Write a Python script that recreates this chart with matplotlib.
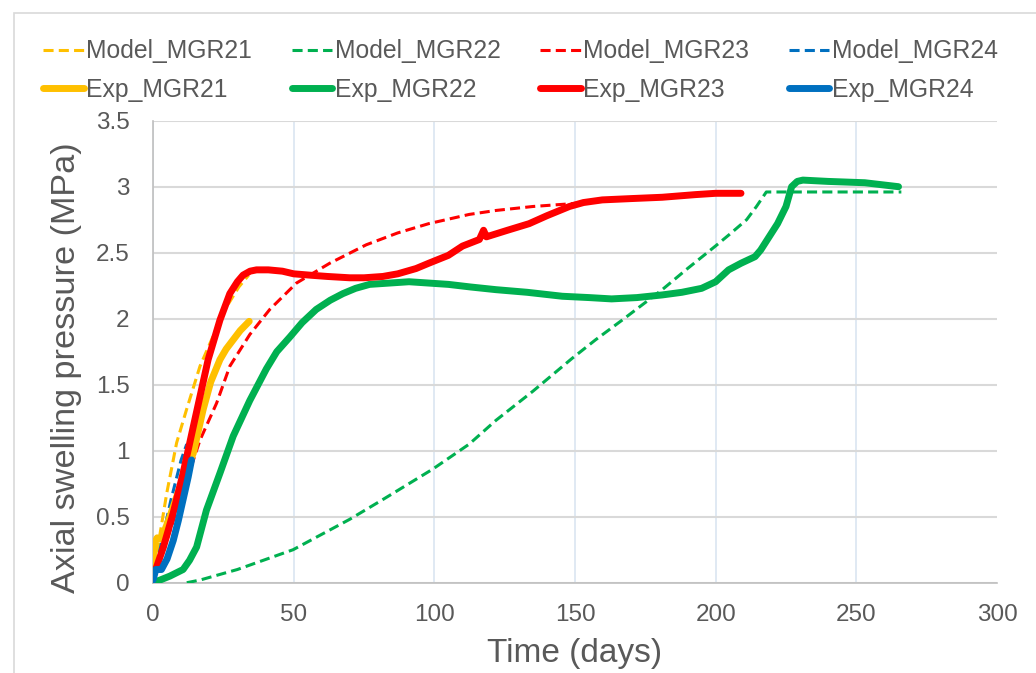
import matplotlib
matplotlib.use("Agg")
import matplotlib.pyplot as plt
from matplotlib.patches import Rectangle

plt.rcParams['font.family'] = ['Liberation Sans', 'DejaVu Sans']

# ---------------- data ----------------
exp21_t = [0, 0.5, 1.5, 3, 6, 10, 14.3, 17.8, 20.5, 23.8, 26, 28.5, 31, 34.2]
exp21_p = [0.1, 0.3, 0.34, 0.33, 0.5, 0.75, 0.98, 1.31, 1.52, 1.69, 1.77, 1.84, 1.91, 1.98]

mod21_t = [0, 2.5, 4.9, 8.4, 11.9, 16.7, 20.2, 25, 30.5, 34]
mod21_p = [0, 0.37, 0.68, 1.06, 1.31, 1.64, 1.81, 2.05, 2.24, 2.33]

exp22_t = [0, 2.5, 6, 10.7, 13, 15.5, 19, 23.8, 28.5, 34.4, 40.3, 44, 48.6, 53, 58, 63, 67.5, 72, 77, 84,
           91, 98, 105, 113, 121.9, 133, 145.5, 155, 163, 172, 181, 188, 195, 200, 204.6, 209, 214,
           216, 219, 222, 225, 227, 229, 231, 240, 253, 265]
exp22_p = [0, 0.02, 0.05, 0.1, 0.17, 0.27, 0.55, 0.83, 1.11, 1.38, 1.62, 1.75, 1.86, 1.97, 2.07, 2.14, 2.19,
           2.23, 2.26, 2.27, 2.28, 2.27, 2.26, 2.24, 2.22, 2.2, 2.17, 2.16, 2.15, 2.16, 2.18, 2.2, 2.23,
           2.28, 2.37, 2.42, 2.47, 2.52, 2.62, 2.72, 2.85, 3.0, 3.04, 3.05, 3.04, 3.03, 3.0]

mod22_t = [12, 16.7, 30, 49.8, 69.9, 81.7, 99.4, 112.4, 121.9, 135, 149, 157.3, 166.8, 181, 190,
           199.9, 205, 211, 214.5, 218, 266]
mod22_p = [0, 0.02, 0.1, 0.25, 0.48, 0.63, 0.86, 1.05, 1.23, 1.45, 1.7, 1.84, 1.99, 2.22, 2.38,
           2.55, 2.64, 2.75, 2.85, 2.96, 2.96]

exp23_t = [0, 1.3, 3.7, 7.2, 10.7, 14.3, 19.6, 23.8, 27.3, 30, 32, 34.5, 36.8, 41, 46, 50, 55.7, 62,
           69.9, 75, 81.7, 87, 93.5, 98, 105, 110, 116, 117.5, 118.5, 120, 126, 133.7, 140, 148,
           153, 159.7, 170, 181, 192.8, 200, 209]
exp23_p = [0.05, 0.12, 0.27, 0.53, 0.83, 1.18, 1.69, 1.99, 2.19, 2.28, 2.33, 2.36, 2.37, 2.37, 2.36,
           2.34, 2.33, 2.32, 2.31, 2.31, 2.32, 2.34, 2.38, 2.42, 2.48, 2.55, 2.6, 2.67, 2.62, 2.63,
           2.67, 2.72, 2.78, 2.85, 2.88, 2.9, 2.91, 2.92, 2.94, 2.95, 2.95]

mod23_t = [0, 8, 16.7, 22.6, 27.3, 34.4, 41.5, 51, 62.8, 75.8, 87, 98, 112.4, 121.9, 135, 148, 165, 185, 210]
mod23_p = [0, 0.52, 1.08, 1.36, 1.64, 1.88, 2.07, 2.27, 2.42, 2.56, 2.65, 2.72, 2.79, 2.82, 2.85, 2.87,
           2.9, 2.93, 2.95]

exp24_t = [0, 1, 3, 5, 7.2, 9, 10.7, 12.5, 13.7]
exp24_p = [0.02, 0.1, 0.1, 0.18, 0.32, 0.47, 0.63, 0.8, 0.93]

mod24_t = [0, 3, 6.3, 10, 12]
mod24_p = [0, 0.3, 0.62, 0.93, 1.05]

x_ticks = [0, 50, 100, 150, 200, 250, 300]
y_ticks = [0, 0.5, 1, 1.5, 2, 2.5, 3, 3.5]
y_tick_labels = ['0', '0.5', '1', '1.5', '2', '2.5', '3', '3.5']

c21, c22, c23, c24 = '#FFC000', '#00B050', '#FF0000', '#0070C0'

# ---------------- figure ----------------
fig = plt.figure(figsize=(10.36, 6.73), dpi=100)
ax = fig.add_axes([153 / 1036, 1 - 582.7 / 673, (997 - 153) / 1036, (582.7 - 120.7) / 673])

# outer chart border
fig.patches.append(Rectangle((14 / 1036, -0.05), 1.1, 1 - 13 / 673 + 0.05, transform=fig.transFigure,
                             fill=False, edgecolor='#d9d9d9', linewidth=1.2))

dash = (0, (3.3, 1.7))
lw_exp = 5.0
lw_mod = 2.2

h_m21, = ax.plot(mod21_t, mod21_p, color=c21, lw=lw_mod, ls=dash, label='Model_MGR21', zorder=3)
h_m22, = ax.plot(mod22_t, mod22_p, color=c22, lw=lw_mod, ls=dash, label='Model_MGR22', zorder=3)
h_m23, = ax.plot(mod23_t, mod23_p, color=c23, lw=lw_mod, ls=dash, label='Model_MGR23', zorder=3)
h_m24, = ax.plot(mod24_t, mod24_p, color=c24, lw=lw_mod, ls=dash, label='Model_MGR24', zorder=3)

h_e22, = ax.plot(exp22_t, exp22_p, color=c22, lw=lw_exp, solid_capstyle='round', solid_joinstyle='round',
                 label='Exp_MGR22', zorder=4)
h_e21, = ax.plot(exp21_t, exp21_p, color=c21, lw=lw_exp, solid_capstyle='round', solid_joinstyle='round',
                 label='Exp_MGR21', zorder=4)
h_e23, = ax.plot(exp23_t, exp23_p, color=c23, lw=lw_exp, solid_capstyle='round', solid_joinstyle='round',
                 label='Exp_MGR23', zorder=5)
h_e24, = ax.plot(exp24_t, exp24_p, color=c24, lw=lw_exp, solid_capstyle='round', solid_joinstyle='round',
                 label='Exp_MGR24', zorder=6)

ax.set_xlim(0, 300)
ax.set_ylim(0, 3.5)
ax.set_xticks(x_ticks)
ax.set_yticks(y_ticks)
ax.set_yticklabels(y_tick_labels)

for s in ['top', 'right']:
    ax.spines[s].set_visible(False)
for s in ['left', 'bottom']:
    ax.spines[s].set_color('#bfbfbf')
    ax.spines[s].set_linewidth(1.2)

ax.grid(axis='y', color='#d9d9d9', lw=1.5)
ax.grid(axis='x', color='#dae5f1', lw=1.2)
ax.set_axisbelow(True)
xgl = ax.get_xgridlines()
xgl[-1].set_visible(False)
ax.tick_params(length=0, labelsize=17.5, labelcolor='#595959')
ax.tick_params(axis='y', pad=17)
ax.tick_params(axis='x', pad=15)

ax.set_xlabel('Time (days)', fontsize=24, color='#595959', labelpad=9)
ax.set_ylabel('Axial swelling pressure (MPa)', fontsize=24.7, color='#595959')
ax.yaxis.set_label_coords(-0.0841, 0.466)

handles = [h_m21, h_e21, h_m22, h_e22, h_m23, h_e23, h_m24, h_e24]
leg = fig.legend(handles=handles, labels=[h.get_label() for h in handles], ncol=4,
                 loc='upper left', bbox_to_anchor=(21 / 1036, 1 - 17 / 673), frameon=False,
                 fontsize=17.8, labelcolor='#595959', handlelength=1.64, handletextpad=0.1,
                 columnspacing=1.6, labelspacing=0.6)

fig.savefig('out.png', dpi=100)
